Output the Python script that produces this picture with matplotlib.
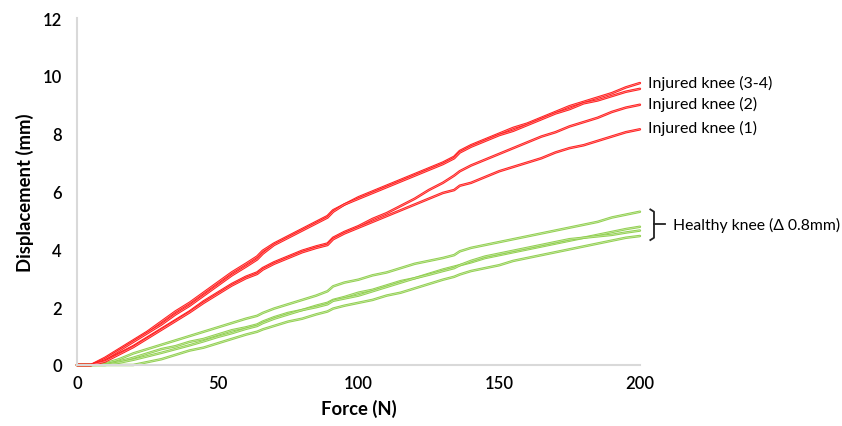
import matplotlib.pyplot as plt

# force values (N) shared by all curves; duplicated-ish points around the small steps
force = [0, 5, 10, 15, 20, 25, 30, 35, 40, 45, 50, 55, 60, 64, 66, 70, 75, 80, 85, 89, 91,
         95, 100, 105, 110, 115, 120, 125, 130, 134, 136, 140, 145, 150, 155, 160, 165,
         170, 175, 180, 185, 190, 195, 200]

# injured knees (mm)
injured_34a = [0, 0, 0.25, 0.55, 0.85, 1.15, 1.5, 1.85, 2.15, 2.5, 2.85, 3.2, 3.5, 3.75, 3.95,
               4.2, 4.45, 4.7, 4.95, 5.15, 5.35, 5.55, 5.8, 6.0, 6.2, 6.4, 6.6, 6.8, 7.0, 7.2,
               7.4, 7.6, 7.8, 8.0, 8.2, 8.35, 8.55, 8.75, 8.95, 9.1, 9.25, 9.4, 9.6, 9.75]
injured_34b = [0, 0, 0.2, 0.5, 0.8, 1.1, 1.4, 1.75, 2.05, 2.4, 2.75, 3.1, 3.4, 3.65, 3.85,
               4.15, 4.4, 4.65, 4.9, 5.1, 5.3, 5.55, 5.75, 5.95, 6.15, 6.35, 6.55, 6.75, 6.95,
               7.15, 7.35, 7.55, 7.75, 7.95, 8.1, 8.3, 8.5, 8.7, 8.85, 9.05, 9.15, 9.3, 9.45, 9.55]
injured_2 = [0, 0, 0.15, 0.4, 0.65, 0.95, 1.25, 1.55, 1.85, 2.2, 2.5, 2.8, 3.05, 3.2, 3.35,
             3.55, 3.75, 3.95, 4.1, 4.2, 4.4, 4.6, 4.8, 5.05, 5.25, 5.5, 5.75, 6.05, 6.3, 6.55,
             6.7, 6.9, 7.1, 7.3, 7.5, 7.7, 7.9, 8.05, 8.25, 8.4, 8.55, 8.75, 8.9, 9.0]
injured_1 = [0, 0, 0.12, 0.37, 0.62, 0.92, 1.22, 1.52, 1.82, 2.15, 2.45, 2.75, 3.0, 3.15, 3.3,
             3.5, 3.7, 3.9, 4.05, 4.15, 4.35, 4.55, 4.75, 4.95, 5.15, 5.35, 5.55, 5.75, 5.95,
             6.05, 6.2, 6.3, 6.5, 6.7, 6.85, 7.0, 7.15, 7.35, 7.5, 7.6, 7.75, 7.9, 8.05, 8.15]

# healthy knees (mm)
healthy_1 = [0, 0, 0.05, 0.2, 0.4, 0.55, 0.7, 0.85, 1.0, 1.15, 1.3, 1.45, 1.6, 1.7, 1.8, 1.95,
             2.1, 2.25, 2.4, 2.55, 2.72, 2.85, 2.95, 3.1, 3.2, 3.35, 3.5, 3.6, 3.7, 3.8, 3.93,
             4.05, 4.15, 4.25, 4.35, 4.45, 4.55, 4.65, 4.75, 4.85, 4.95, 5.1, 5.2, 5.3]
healthy_2 = [0, 0, 0.02, 0.12, 0.25, 0.4, 0.55, 0.65, 0.8, 0.9, 1.05, 1.2, 1.3, 1.4, 1.5, 1.65,
             1.8, 1.9, 2.05, 2.15, 2.25, 2.35, 2.5, 2.6, 2.75, 2.9, 3.0, 3.15, 3.3, 3.4, 3.45,
             3.55, 3.7, 3.8, 3.9, 4.0, 4.1, 4.2, 4.3, 4.4, 4.5, 4.6, 4.7, 4.78]
healthy_3 = [0, 0, 0, 0.08, 0.18, 0.3, 0.42, 0.55, 0.68, 0.82, 0.97, 1.1, 1.25, 1.35, 1.45, 1.6,
             1.75, 1.9, 2.0, 2.1, 2.22, 2.3, 2.4, 2.55, 2.7, 2.85, 3.0, 3.12, 3.25, 3.35, 3.45,
             3.6, 3.75, 3.85, 3.95, 4.05, 4.15, 4.25, 4.35, 4.4, 4.45, 4.5, 4.58, 4.65]
healthy_4 = [0, 0, 0, 0, 0, 0.1, 0.2, 0.35, 0.5, 0.6, 0.75, 0.9, 1.05, 1.15, 1.23, 1.35, 1.5,
             1.6, 1.75, 1.85, 1.95, 2.05, 2.15, 2.25, 2.4, 2.5, 2.65, 2.8, 2.95, 3.05, 3.13,
             3.25, 3.35, 3.45, 3.6, 3.7, 3.8, 3.9, 4.0, 4.1, 4.2, 4.3, 4.4, 4.46]

injured = [injured_34a, injured_34b, injured_2, injured_1]
healthy = [healthy_1, healthy_2, healthy_3, healthy_4]
injured_labels = ['Injured knee (3-4)', 'Injured knee (2)', 'Injured knee (1)']
injured_label_y = [9.78, 9.03, 8.2]

plt.rcParams['font.family'] = ['Lato', 'DejaVu Sans']

fig = plt.figure(figsize=(8.42, 4.27), dpi=100)
ax = fig.add_axes([0.0914, 0.1429, 0.6686, 0.8126])

red = '#ff1f1f'
green = '#92d050'

def trace(y, color, light):
    # the source lines look like a doubled stroke with a lighter core
    ax.plot(force, y, color=color, lw=1.8, solid_capstyle='round', clip_on=False)
    ax.plot(force, y, color=light, lw=0.4, clip_on=False)

for y in healthy:
    trace(y, green, '#d4ecbd')
for y in injured:
    trace(y, red, '#ffa0a0')

ax.set_xlim(0, 200)
ax.set_ylim(0, 12)
ax.set_xticks([0, 50, 100, 150, 200])
ax.set_yticks(range(0, 13, 2))
ax.tick_params(length=0, labelsize=12)
ax.tick_params(axis='x', pad=7)
ax.tick_params(axis='y', pad=11)
for lab in ax.get_xticklabels() + ax.get_yticklabels():
    lab.set_fontweight('semibold')

for s in ['top', 'right']:
    ax.spines[s].set_visible(False)
for s in ['left', 'bottom']:
    ax.spines[s].set_color('#d9d9d9')
    ax.spines[s].set_linewidth(1.5)

ax.set_xlabel('Force (N)', fontsize=13.3, fontweight='bold', labelpad=6)
ax.set_ylabel('Displacement (mm)', fontsize=13.3, fontweight='bold')
ax.yaxis.set_label_coords(-0.077, 0.5)

for lab, yl in zip(injured_labels, injured_label_y):
    ax.text(202.8, yl, lab, fontsize=11.5, va='center', ha='left')

# bracket for the healthy group
bx = 205.0
ax.plot([bx - 1.3, bx, bx, bx - 1.3], [5.38, 5.3, 4.4, 4.32], color='#222222', lw=1.3, clip_on=False)
ax.plot([bx, bx + 3.8], [4.87, 4.87], color='#222222', lw=1.3, clip_on=False)
ax.text(211.8, 4.87, 'Healthy knee (\u0394 0.8mm)', fontsize=11.3, va='center', ha='left')

fig.savefig('out.png', dpi=100)
